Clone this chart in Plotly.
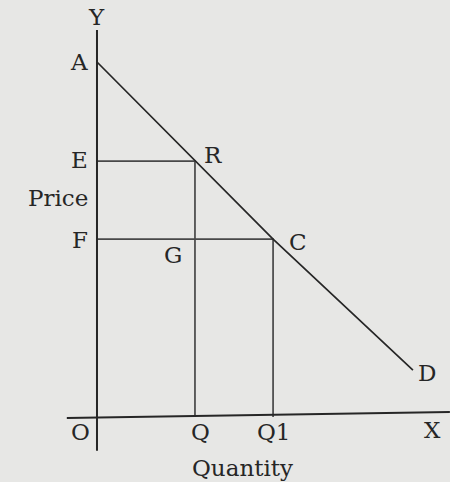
import plotly.graph_objects as go

# Demand curve points (A, R, C, D) in arbitrary price/quantity units
demand_labels = ["A", "R", "C", "D"]
demand_q = [0.0, 2.76, 4.96, 8.90]
demand_p = [10.0, 7.21, 5.01, 1.32]

# Axis extents
x_axis_q = [-0.85, 9.94]
x_axis_p = [-0.03, 0.14]
y_axis_q = [0.0, 0.0]
y_axis_p = [-0.95, 10.9]

BG = "#e7e7e5"
INK = "#262626"
GRID = "#484848"
FONT = "DejaVu Serif"

qR, pR = demand_q[1], demand_p[1]
qC, pC = demand_q[2], demand_p[2]

fig = go.Figure()

# rectangles: E-R-Q and F-C-Q1
fig.add_trace(go.Scatter(x=[0, qR, qR], y=[pR, pR, 0], mode="lines",
                         line=dict(color=GRID, width=1.7), hoverinfo="skip"))
fig.add_trace(go.Scatter(x=[0, qC, qC], y=[pC, pC, 0], mode="lines",
                         line=dict(color=GRID, width=1.7), hoverinfo="skip"))
# demand line
fig.add_trace(go.Scatter(x=demand_q, y=demand_p, mode="lines",
                         line=dict(color=INK, width=1.7), hoverinfo="skip"))
# axes
fig.add_trace(go.Scatter(x=x_axis_q, y=x_axis_p, mode="lines",
                         line=dict(color=INK, width=2), hoverinfo="skip"))
fig.add_trace(go.Scatter(x=y_axis_q, y=y_axis_p, mode="lines",
                         line=dict(color=INK, width=2), hoverinfo="skip"))

def lab(text, x, y, dx, dy, size=23):
    fig.add_annotation(x=x, y=y, xref="x", yref="y", text=text, showarrow=False,
                       xshift=dx, yshift=dy, xanchor="center", yanchor="middle",
                       font=dict(family=FONT, size=size, color=INK))

lab("A", demand_q[0], demand_p[0], -18, 0)
lab("R", qR, pR, 18, 6)
lab("C", qC, pC, 25, -3)
lab("D", demand_q[3], demand_p[3], 14, -3)
lab("E", 0, pR, -17, 1)
lab("F", 0, pC, -17, -1)
lab("G", qR, pC, -22, -16)
lab("O", 0, 0, -16, -15)
lab("Q", qR, 0, 6, -15)
lab("Q1", qC, 0, 1, -15)
lab("X", x_axis_q[1], 0, -17, -13)
lab("Y", 0, y_axis_p[1], 0, 13)
lab("Price", 0, (pR + pC) / 2, -39, 2)
lab("Quantity", (qR + qC) / 2, 0, 8, -51)

fig.update_layout(
    width=450, height=482,
    margin=dict(l=0, r=0, t=0, b=0),
    paper_bgcolor=BG, plot_bgcolor=BG,
    showlegend=False,
    xaxis=dict(range=[-2.732, 9.944], visible=False, fixedrange=True),
    yaxis=dict(range=[-1.831, 11.746], visible=False, fixedrange=True),
)

fig.write_html(
    "out.html",
    config={"displayModeBar": False},
    post_script="document.body.style.margin='0';document.body.style.overflow='hidden';document.body.style.background='%s';" % BG,
)
